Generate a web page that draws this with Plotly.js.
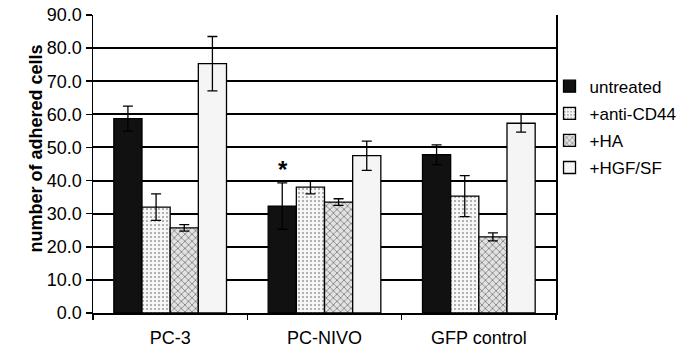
<!DOCTYPE html>
<html>
<head>
<meta charset="utf-8">
<script src="https://cdn.plot.ly/plotly-3.0.1.min.js"></script>
<style>html,body{margin:0;padding:0;background:#fff;}#chart{width:682px;height:354px;}</style>
</head>
<body>
<div id="chart"></div>
<script>
const categories = ["PC-3", "PC-NIVO", "GFP control"];
const seriesNames = ["untreated", "+anti-CD44", "+HA", "+HGF/SF"];
const untreated = [58.7, 32.3, 47.8];
const untreatedErr = [3.8, 7.0, 3.0];
const antiCD44 = [32.0, 38.0, 35.3];
const antiCD44Err = [4.0, 2.0, 6.2];
const ha = [25.7, 33.5, 23.0];
const haErr = [1.0, 1.0, 1.2];
const hgf = [75.3, 47.5, 57.3];
const hgfErr = [8.2, 4.4, 2.7];
const yTicks = [0, 10, 20, 30, 40, 50, 60, 70, 80, 90];
const yTitle = "number of adhered cells";

const values = [untreated, antiCD44, ha, hgf];
const errs = [untreatedErr, antiCD44Err, haErr, hgfErr];
const styles = [
  {color: "#111111", pattern: {shape: ""}},
  {color: "#f4f4f4", pattern: {shape: ".", fgcolor: "#9a9a9a", bgcolor: "#f6f6f6", size: 4, solidity: 0.2}},
  {color: "#c8c8c8", pattern: {shape: "x", fgcolor: "#666", bgcolor: "#e2e2e2", size: 5, solidity: 0.25}},
  {color: "#f5f5f5", pattern: {shape: ""}}
];

const traces = seriesNames.map((name, i) => ({
  type: "bar",
  name: name,
  x: categories,
  y: values[i],
  legendgroup: "g" + i,
  marker: {color: styles[i].color, pattern: styles[i].pattern, line: {color: "#000", width: 1.3}},
  error_y: {type: "data", array: errs[i], visible: true, color: "#000", thickness: 1.3, width: 5}
}));

const font = "Liberation Sans, Arial, sans-serif";
const layout = {
  width: 682, height: 354,
  margin: {l: 93, r: 126, t: 15, b: 41, autoexpand: false},
  paper_bgcolor: "#fff", plot_bgcolor: "#fff",
  barmode: "group", bargap: 0.27, bargroupgap: 0,
  font: {family: font, color: "#000", size: 17},
  showlegend: true,
  legend: {x: 0.986, xanchor: "left", y: 0.82, yanchor: "top", traceorder: "grouped", tracegroupgap: 2,
           font: {size: 17, family: font}, itemwidth: 30, bgcolor: "rgba(0,0,0,0)"},
  xaxis: {
    type: "category", showline: true, linecolor: "#000", linewidth: 1.5,
    ticks: "outside", tickson: "boundaries", ticklen: 5, tickcolor: "#000", tickwidth: 1.5,
    tickfont: {size: 18}, showgrid: false, zeroline: false, ticklabelstandoff: 8
  },
  yaxis: {
    range: [0, 90], tickvals: yTicks, tickformat: ".1f",
    showline: true, linecolor: "#000", linewidth: 1.5, mirror: true,
    ticks: "outside", ticklen: 6, tickcolor: "#000", tickwidth: 1.5,
    showgrid: true, gridcolor: "#000", gridwidth: 2, zeroline: false,
    tickfont: {size: 18}
  },
  annotations: [{
    x: 0.73, y: 43.3, xref: "x", yref: "y", text: "<b>*</b>", showarrow: false,
    font: {size: 24, family: font}
  }, {
    x: -0.151, y: 0.552, xref: "paper", yref: "paper", text: "<b>" + yTitle + "</b>",
    textangle: -90, showarrow: false, font: {size: 18, family: font}
  }]
};

Plotly.newPlot("chart", traces, layout, {displayModeBar: false, staticPlot: true});
</script>
</body>
</html>
